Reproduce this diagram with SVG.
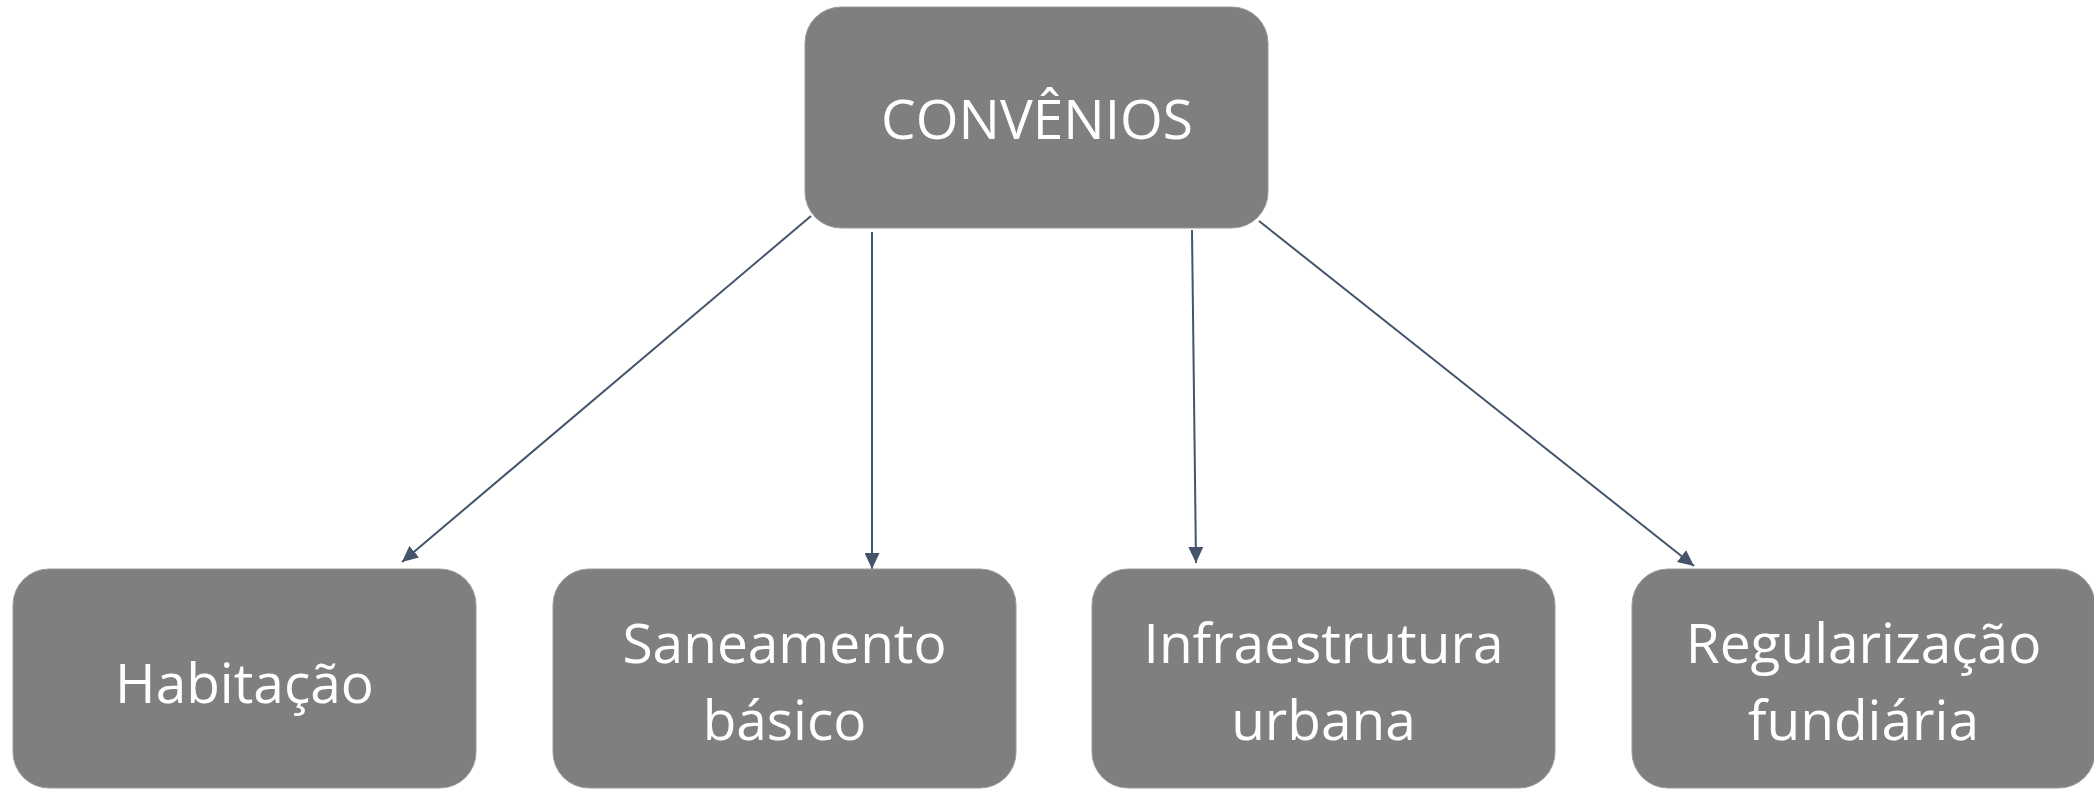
<svg xmlns="http://www.w3.org/2000/svg" width="2094" height="790" viewBox="0 0 2094 790">
<style>
.box{fill:#7f7f7f;stroke:#9a9a9a;stroke-width:1}
.lbl{font-family:"Open Sans","Noto Sans",sans-serif;font-size:55px;fill:#ffffff;text-anchor:middle}
.conn{stroke:#44546a;stroke-width:2;fill:none;marker-end:url(#ah)}
</style>
<defs>
<marker id="ah" markerUnits="userSpaceOnUse" markerWidth="17" markerHeight="15" refX="16" refY="7.5" orient="auto">
<path d="M0,0 L16,7.5 L0,15 z" fill="#44546a"/>
</marker>
</defs>
<rect width="2094" height="790" fill="#ffffff"/>
<g id="connectors">
<line class="conn" x1="811" y1="216" x2="402" y2="562"/>
<line class="conn" x1="872" y1="232" x2="872" y2="569"/>
<line class="conn" x1="1192" y1="230" x2="1196" y2="563"/>
<line class="conn" x1="1259" y1="221" x2="1694" y2="566"/>
</g>
<g id="convenios">
<rect class="box" x="805" y="7" width="463" height="221" rx="36"/>
<text class="lbl" x="1037" y="139">CONVÊNIOS</text>
</g>
<g id="habitacao">
<rect class="box" x="13" y="569" width="463" height="219" rx="36"/>
<text class="lbl" x="244.5" y="703">Habitação</text>
</g>
<g id="saneamento">
<rect class="box" x="553" y="569" width="463" height="219" rx="36"/>
<text class="lbl" x="784.5" y="663">Saneamento</text>
<text class="lbl" x="784.5" y="740">básico</text>
</g>
<g id="infraestrutura">
<rect class="box" x="1092" y="569" width="463" height="219" rx="36"/>
<text class="lbl" x="1323.5" y="663">Infraestrutura</text>
<text class="lbl" x="1323.5" y="740">urbana</text>
</g>
<g id="regularizacao">
<rect class="box" x="1632" y="569" width="463" height="219" rx="36"/>
<text class="lbl" x="1863.5" y="663">Regularização</text>
<text class="lbl" x="1863.5" y="740">fundiária</text>
</g>
</svg>
